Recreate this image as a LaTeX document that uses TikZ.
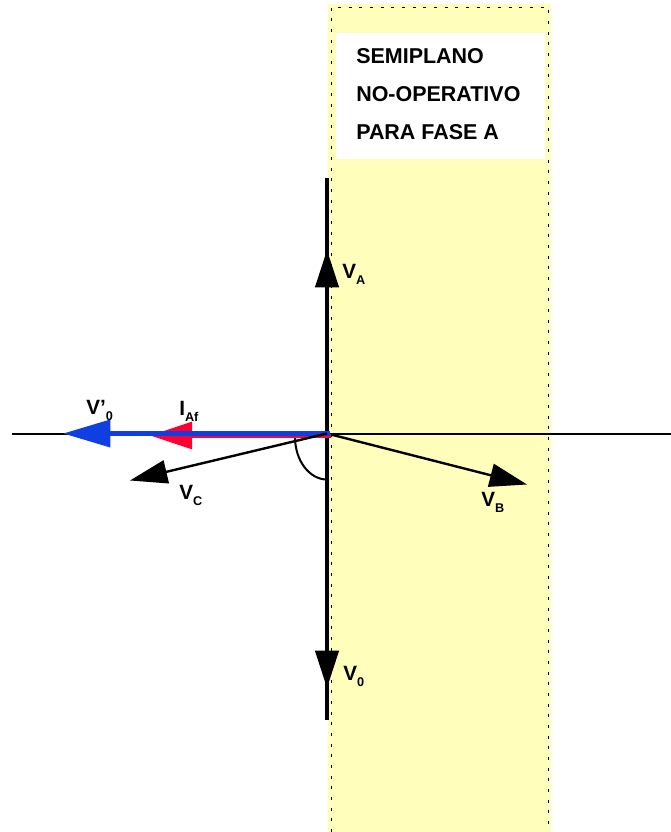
\documentclass[tikz,border=0pt]{standalone}
\usepackage{fontspec}
\setmainfont{Liberation Sans}
\usetikzlibrary{arrows.meta}
\definecolor{bandyellow}{HTML}{FFFFBB}
\definecolor{phasorblue}{HTML}{0F3FE0}
\definecolor{phasorred}{HTML}{FF0033}
\tikzset{
  axis/.style={line width=1.5pt},
  phasor/.style={line width=1.8pt,-{Triangle[length=28pt,width=17.5pt]}},
  vlabel/.style={anchor=base west,inner sep=0pt,font=\fontsize{15.5}{17}\selectfont\bfseries},
  titlelabel/.style={anchor=base west,inner sep=0pt,font=\fontsize{16.1}{18}\selectfont\bfseries},
}
\newcommand{\sublabel}[2]{#1\raisebox{-0.33em}{\fontsize{9.5}{10}\selectfont #2}}

\begin{document}
\begin{tikzpicture}[x=0.75pt,y=-0.75pt]
    \useasboundingbox (0,0) rectangle (671,832);

    % half plane
    \fill[bandyellow] (328,4) rectangle (551,832);
    \draw[line width=0.6pt,dash pattern=on 2.2pt off 5.8pt] (331,832) -- (331,7) -- (548,7) -- (548,832);
    \node[fill=white,inner sep=0pt,minimum width=157pt,minimum height=94.5pt] (box) at (440.5,96) {};
    \node[titlelabel] (semi) at (356,63) {SEMIPLANO};
    \node[titlelabel] (noop) at (356,101) {NO-OPERATIVO};
    \node[titlelabel] (fase) at (356,139) {PARA FASE A};

    % axes
    \coordinate (o) at (327,433.5);
    \coordinate (left) at (12,433.5);
    \coordinate (right) at (671,433.5);
    \coordinate (top) at (327,178);
    \coordinate (bottom) at (327,720);
    \draw[axis] (left) -- (right);
    \draw[line width=2.4pt] (top) -- (bottom);

    % phasors
    \coordinate (va) at (327,250);
    \coordinate (vz) at (327,688);
    \coordinate (vb) at (527,484.5);
    \coordinate (vc) at (130,480.5);
    \draw[phasor,line width=2.4pt] (o) -- (va);
    \draw[phasor,line width=2.4pt] (o) -- (vz);
    \draw[phasor] (o) -- (vb);
    \draw[axis] (295,437) arc[start angle=180,end angle=90,x radius=32,y radius=42.5];

    \coordinate (redstart) at (331,435.5);
    \coordinate (redtip) at (150,435.5);
    \coordinate (bluestart) at (330,433.5);
    \coordinate (bluetip) at (63,433.5);
    \draw[phasorred,line width=3pt,-{Triangle[length=31.5pt,width=20pt]}] (redstart) -- (redtip);
    \draw[phasorblue,line width=3.6pt,-{Triangle[length=35.5pt,width=20pt]}] (bluestart) -- (bluetip);
    \draw[phasor] (o) -- (vc);

    % labels
    \node[vlabel] (lva) at (342,278) {\sublabel{V}{A}};
    \node[vlabel] (lvz) at (343,680) {\sublabel{V}{0}};
    \node[vlabel] (lvb) at (481,506) {\sublabel{V}{B}};
    \node[vlabel] (lvc) at (179,499) {\sublabel{V}{C}};
    \node[vlabel] (lvp) at (86,414) {\sublabel{V’}{0}};
    \node[vlabel] (liaf) at (179,415) {\sublabel{I}{Af}};
  \end{tikzpicture}
\end{document}
